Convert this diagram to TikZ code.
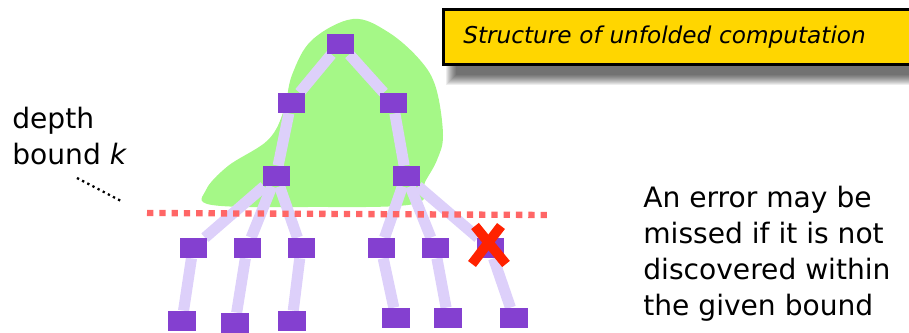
\documentclass[tikz,border=0pt]{standalone}
\usepackage{fontspec}
\setmainfont{DejaVu Sans}
\usetikzlibrary{backgrounds}
\definecolor{boxpurple}{RGB}{132,64,208}
\definecolor{lilac}{RGB}{221,208,250}
\definecolor{blobgreen}{RGB}{165,248,135}
\definecolor{boundred}{RGB}{255,102,102}
\definecolor{crossred}{RGB}{255,34,0}
\definecolor{notegold}{RGB}{255,214,0}

\begin{document}
\begin{tikzpicture}[x=0.02cm,y=0.02cm,
	state/.style={fill=boxpurple, minimum width=0.54cm, minimum height=0.4cm, inner sep=0pt},
	leaf/.style={state, minimum width=0.56cm},
	branch/.style={draw=lilac, line width=6.3pt},
	plain/.style={inner sep=0pt, align=left, font=\fontsize{16}{20.4}\selectfont}]
	\useasboundingbox (0,0) rectangle (909,333);

	%unfolded tree
	\node[state] (r) at (340,289) {};
	\node[state] (a) at (291,230) {};
	\node[state] (b) at (393,230) {};
	\node[state] (aa) at (276,157) {};
	\node[state] (ba) at (406,157) {};
	\node[state] (aaa) at (193,85) {};
	\node[state] (aab) at (247,85) {};
	\node[state] (aac) at (301,85) {};
	\node[state] (baa) at (381,85) {};
	\node[state] (bab) at (435,85) {};
	\node[state] (bac) at (490,85) {};
	\node[leaf] (aaa1) at (182,12) {};
	\node[leaf] (aab1) at (235,10) {};
	\node[leaf] (aac1) at (292,12) {};
	\node[leaf] (baa1) at (396,15) {};
	\node[leaf] (bab1) at (448,15) {};
	\node[leaf] (bac1) at (514,15) {};

	\begin{scope}[on background layer]
		%explored part
		\fill[blobgreen] plot[smooth cycle, tension=0.6] coordinates {
			(353,314) (388,301) (420,273) (436,245) (443,198) (437,173)
			(425,151) (414,129) (310,126) (212,128) (206,143)
			(228,167) (268,193) (284,223) (292,258) (312,293)};
		%branches
		\draw[branch] (r) -- (a);
		\draw[branch] (r) -- (b);
		\draw[branch] (a) -- (aa);
		\draw[branch] (b) -- (ba);
		\foreach \c in {aaa,aab,aac}
			\draw[branch] (aa) -- (\c) -- (\c1);
		\foreach \c in {baa,bab,bac}
			\draw[branch] (ba) -- (\c) -- (\c1);
	\end{scope}

	%depth bound
	\coordinate (kl) at (147,120);
	\coordinate (kr) at (548,118);
	\draw[boundred, line width=3.6pt, dash pattern=on 3.6pt off 3.4pt] (kl) -- (kr);
	\node[plain, anchor=north west] (depth) at (12,226) {depth\\bound \textit{k}};
	\coordinate (p) at (123,131);
	\draw[line width=1.3pt, dotted] (77,155) -- (p);

	%missed error
	\draw[crossred, line width=5.6pt] (475,107) -- (506,69);
	\draw[crossred, line width=5.6pt] (501,107) -- (472,69);

	%notes
	\node[plain, anchor=north west] (note) at (643,147)
		{An error may be\\missed if it is not\\discovered within\\the given bound};
	\node[draw=black, line width=1.5pt, fill=notegold, anchor=north west,
		minimum height=1.1cm, text width=9.3cm, inner xsep=0.4cm, align=left,
		font=\fontsize{13.2}{15}\selectfont]
		(title) at (442,325) {\textit{Structure of unfolded computation}};
	%soft shadow under the title
	\begin{scope}[on background layer]
		\foreach \e in {0,...,10}
			\fill[black, opacity=0.07] ([shift={(14-\e,-9-\e)}]title.south west)
				rectangle ([shift={(4+\e,-19+\e)}]title.north east);
	\end{scope}
\end{tikzpicture}
\end{document}
